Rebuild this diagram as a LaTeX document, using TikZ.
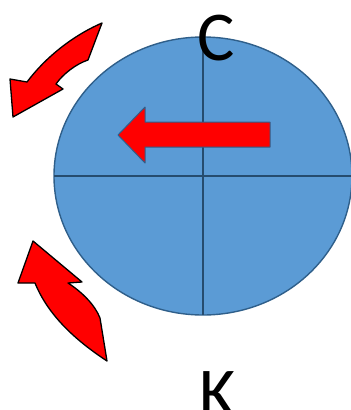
\documentclass[tikz,border=0pt]{standalone}
\usepackage{fontspec}
\setmainfont{Carlito}
\usetikzlibrary{shapes.geometric}
\definecolor{discblue}{HTML}{5B9BD5}
\definecolor{discline}{HTML}{2F5F8A}
\definecolor{arrowred}{HTML}{FF0000}

\begin{document}
\begin{tikzpicture}[
        x=1pt, y=-1pt,
        disc/.style={ellipse, draw=discline, fill=discblue, line width=1.4pt,
                     minimum width=298pt, minimum height=278pt, inner sep=0pt, outer sep=0pt},
        axis/.style={draw=discline!80!black, line width=1.2pt},
        bigarrow/.style={fill=arrowred, draw=discline, line width=1pt, line join=round},
        turnarrow/.style={fill=arrowred, draw=black, line width=1.3pt, line join=round},
        letter/.style={anchor=base, font=\fontsize{70}{80}\selectfont, inner sep=0pt}
    ]
    \useasboundingbox (0,0) rectangle (351,410);
    \node [disc] (disc) at (203,176) {};
    \draw[axis] (disc.north) -- (disc.south);
    \draw[axis] (disc.west) -- (disc.east);
    % straight arrow inside the disc
    \draw[bigarrow] (118,135) -- (145,107) -- (145,122) -- (270,122)
        -- (270,147) -- (145,147) -- (145,163) -- cycle;
    % curved arrows on the left
    \draw[turnarrow] (13,117) -- (10,79) -- (27,82)
        .. controls (45,58) and (72,36) .. (102,23) -- (88,60)
        .. controls (76,64) and (63,74) .. (56,84) -- (63,89) -- cycle;
    \draw[turnarrow] (33,241) -- (82,282) -- (68,283)
        .. controls (82,292) and (95,305) .. (100,318) -- (107,361)
        .. controls (75,340) and (48,315) .. (35,283) -- (18,283) -- cycle;
    \node [letter] (top) at (216,60) {C};
    \node [letter] (bottom) at (218,416) {K};
\end{tikzpicture}
\end{document}
